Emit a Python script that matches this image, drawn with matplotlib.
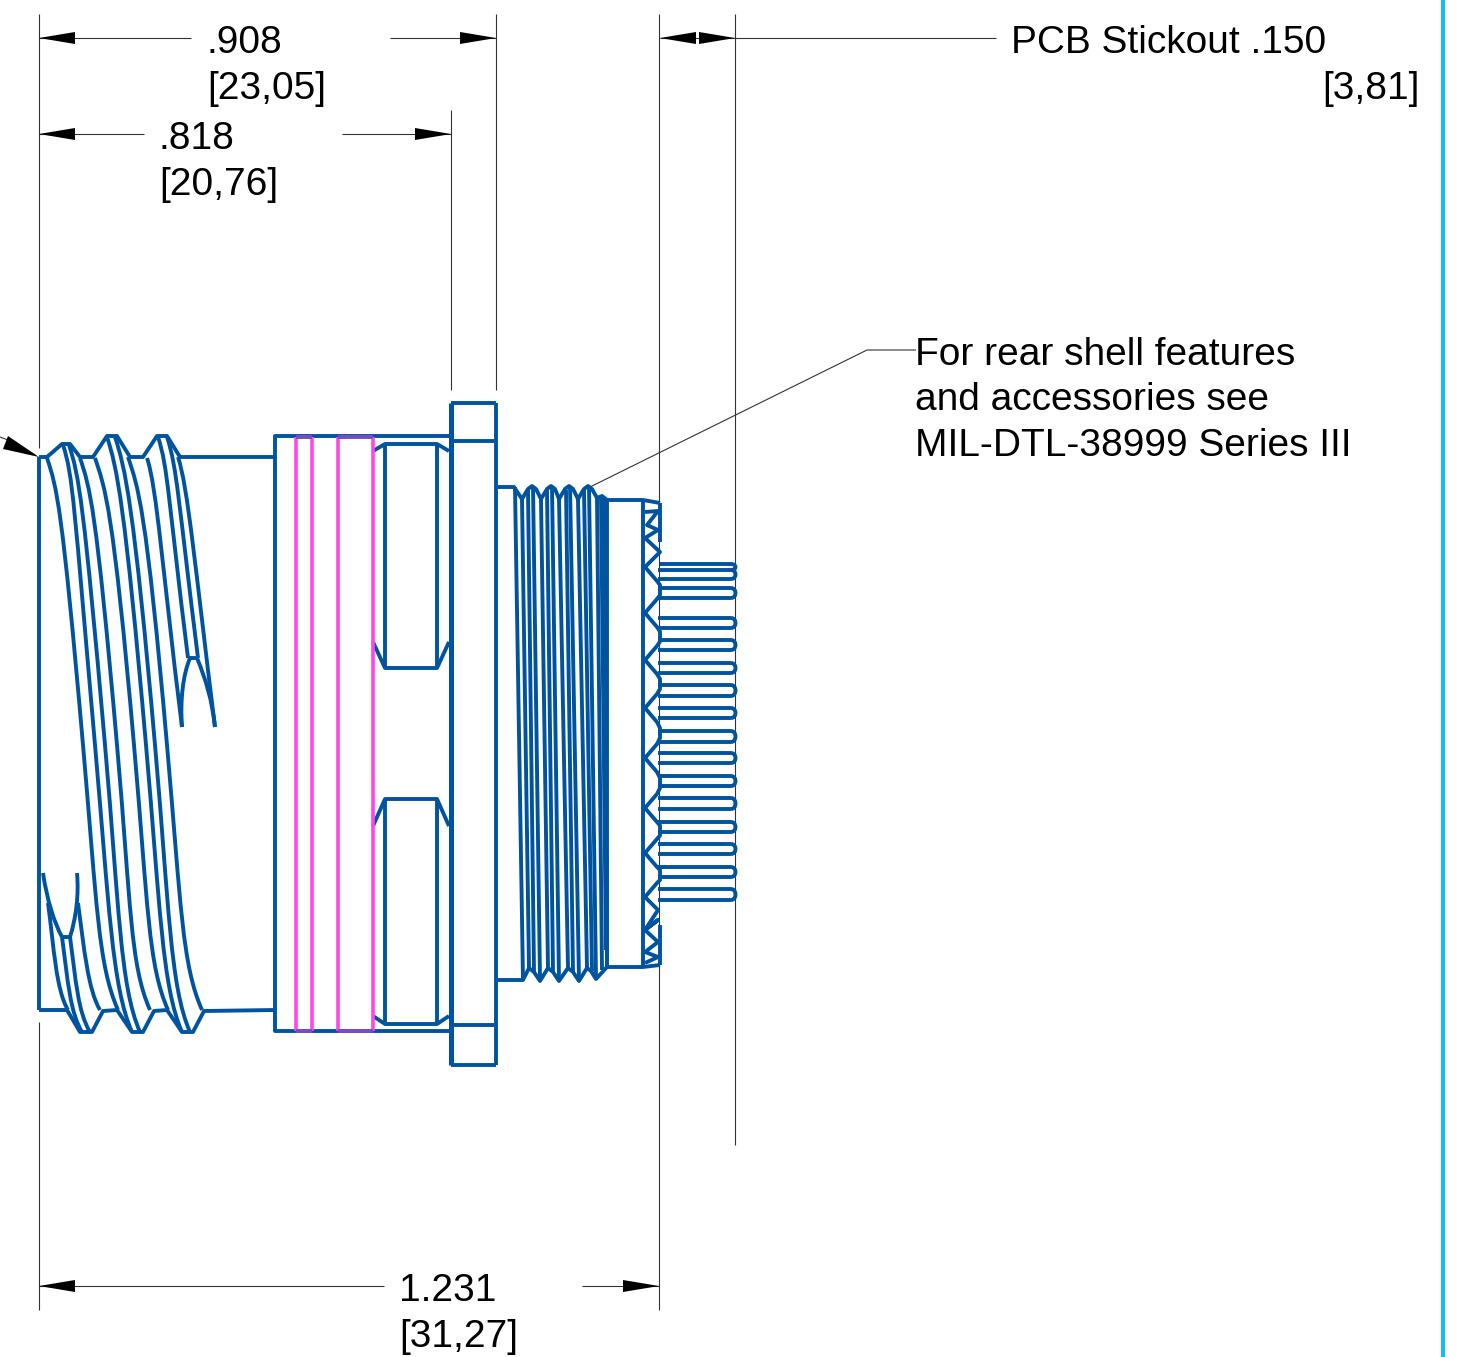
import matplotlib
matplotlib.use("Agg")
import matplotlib.pyplot as plt
from matplotlib.path import Path
from matplotlib.patches import PathPatch, Polygon

plt.rcParams['font.family'] = ['Liberation Sans', 'DejaVu Sans']

BLUE = '#00549f'
MAGENTA = '#ff45e6'
PURPLE = '#7a4cc4'
CYAN = '#17bdee'
GREY = '#333333'
LW = 2.8

# everything below is read off the picture, in image pixels
# front barrel outline
top_outline_x = [39, 47, 62, 70, 80, 93, 107, 117, 130, 143, 157, 167, 180, 275, 275, 450]
top_outline_y = [457, 457, 444, 444, 457, 457, 436, 436, 457, 457, 436, 436, 457, 457, 436, 436]
bot_outline_x = [39, 67, 80, 92, 103, 117, 132, 143, 154, 167, 182, 193, 204, 275, 275, 450]
bot_outline_y = [1010, 1010, 1032, 1032, 1011, 1010, 1032, 1032, 1011, 1010, 1032, 1032, 1011, 1010, 1031, 1031]

# long thread lines: start at the top, mid point, end at the bottom
thread_top_x = [47, 63, 69, 80, 95, 107, 115, 128]
thread_top_y = [458, 445, 445, 458, 458, 437, 437, 457]
thread_mid_x = [83, 95, 105, 117, 134, 146, 155, 167]
thread_end_x = [118, 132, 140, 150, 168, 182, 190, 202]
thread_end_y = [1010, 1032, 1032, 1010, 1010, 1032, 1032, 1010]

# thread run-outs, top right and bottom left (x0, y0, x1, y1)
runout_top = [(147, 458, 182, 727), (158, 437, 188, 658), (167, 437, 198, 658), (178, 457, 215, 727)]
runout_bot = [(48, 903, 68, 1010), (62, 937, 82, 1032), (70, 937, 90, 1032), (78, 903, 100, 1010)]

# rear thread
rear_profile_top_x = [497, 514, 522, 528, 532, 536, 541, 547, 551, 555, 559, 565, 569, 573, 578, 584, 588, 592, 597, 602, 607, 643, 660]
rear_profile_top_y = [487, 487, 499, 489, 486, 489, 499, 489, 486, 489, 499, 489, 486, 489, 499, 489, 486, 489, 498, 496, 500, 500, 503]
rear_profile_bot_x = [497, 523, 529, 534, 540, 548, 553, 559, 568, 573, 579, 587, 591, 596, 607, 643, 660]
rear_profile_bot_y = [980, 980, 968, 972, 981, 968, 972, 981, 968, 972, 981, 968, 971, 979, 967, 967, 965]
rear_line_top_x = [515, 522, 528, 533, 541, 547, 552, 559, 566, 570, 578, 584, 589, 597, 601, 604]
rear_line_top_y = [487, 499, 490, 486, 499, 490, 486, 499, 490, 486, 499, 490, 486, 498, 497, 497]
rear_line_bot_x = [523, 529, 534, 540, 548, 553, 559, 568, 573, 579, 587, 592, 596, 602, 606, 607]
rear_line_bot_y = [980, 968, 972, 980, 968, 972, 980, 968, 972, 980, 968, 971, 978, 970, 950, 967]

# pins, y of the upper and lower edge
pin_upper = [570, 588, 618, 640, 663, 685, 708, 731, 753, 776, 798, 822, 844, 867, 889]
pin_lower = [579, 598, 628, 650, 673, 696, 718, 742, 763, 786, 809, 832, 854, 877, 900]
pin_extra_y = 564

# insert edge: notches on the left, scallops out to the right
notch_y = [567, 613, 660, 708, 758, 808, 853, 897]
zig_top_x = [645, 658, 647, 658, 645, 660, 645]
zig_top_y = [512, 511, 525, 530, 538, 552, 567]
zig_bot_x = [645, 658, 645, 658, 645, 658, 645, 658, 645]
zig_bot_y = [897, 910, 930, 920, 930, 942, 952, 957, 963]

# magenta seal lines
seal_x = [296, 312, 338, 373]

fig = plt.figure(figsize=(14.63, 13.57), dpi=100)
ax = fig.add_axes([0, 0, 1, 1])
ax.set_xlim(0, 1463)
ax.set_ylim(1357, 0)
ax.axis('off')


def blue(x, y, lw=LW):
    ax.plot(x, y, color=BLUE, lw=lw, solid_joinstyle='round', solid_capstyle='butt', zorder=2)


def curve(verts, lw=LW, color=BLUE):
    codes = [Path.MOVETO] + [Path.CURVE4] * (len(verts) - 1)
    ax.add_patch(PathPatch(Path(verts, codes), fill=False, edgecolor=color, lw=lw,
                           capstyle='butt', joinstyle='round', zorder=2))


def thin(x, y):
    ax.plot(x, y, color=GREY, lw=0.8, solid_capstyle='butt', zorder=1)


def arrow(tip, direction, y):
    # filled dimension arrow, 36 px long
    ax.add_patch(Polygon([(tip, y), (tip + direction * 36, y - 6), (tip + direction * 36, y + 6)],
                         closed=True, color='black', lw=0, zorder=3))


# front barrel
blue(top_outline_x, top_outline_y)
blue(bot_outline_x, bot_outline_y)
blue([39, 39], [457, 1010])

for x0, y0, xm, x1, y1 in zip(thread_top_x, thread_top_y, thread_mid_x, thread_end_x, thread_end_y):
    ym = 745
    curve([(x0, y0), (x0 + 10, y0 + 30), (xm - 21, ym - 240), (xm, ym),
           (xm + 14, ym + 160), (x1 - 20, y1 - 45), (x1, y1)])

for x0, y0, x1, y1 in runout_top:
    curve([(x0, y0), (x0 + 10, y0 + 30), (x1 - 20, y1 - 160), (x1, y1)])
for x0, y0, x1, y1 in runout_bot:
    curve([(x0, y0), (x0 + 6, y0 + 45), (x1 - 12, y1 - 20), (x1, y1)])

# thread ends, the two little horns
blue([189, 198], [658, 658])
curve([(182, 727), (180, 700), (183, 675), (190, 658)])
curve([(197, 658), (206, 680), (212, 700), (215, 727)])
blue([62, 71], [937, 937])
curve([(43, 873), (47, 900), (54, 922), (62, 937)])
curve([(77, 873), (79, 895), (76, 918), (70, 937)])

# shell middle, notches
for y_a, y_b, y_c, y_d in [(451, 444, 668, 642), (826, 799, 1024, 1016)]:
    blue([373, 385, 437, 449], [y_a, y_b, y_b, y_a])
    blue([373, 385, 437, 449], [y_d, y_c, y_c, y_d])
    blue([385, 385], [y_b, y_c])
    blue([437, 437], [y_b, y_c])
blue([275, 275], [457, 1010])

# seal lines drawn over the shell
for sx in seal_x:
    ax.plot([sx, sx], [437, 1031], color=MAGENTA, lw=2.6, solid_capstyle='butt', zorder=2.5)
for sx0, sx1 in [(seal_x[0], seal_x[1]), (seal_x[2], seal_x[3])]:
    ax.plot([sx0, sx1], [436.5, 436.5], color=PURPLE, lw=LW, solid_capstyle='butt', zorder=2.6)
    ax.plot([sx0, sx1], [1031, 1031], color=PURPLE, lw=LW, solid_capstyle='butt', zorder=2.6)

# flange
blue([450.5, 450.5], [403, 1065], lw=3.6)
blue([496, 496], [403, 1065])
blue([451, 496], [403, 403])
blue([451, 496], [1065, 1065])
blue([451, 496], [441, 441])
blue([451, 496], [1025, 1025])

# rear thread
blue(rear_profile_top_x, rear_profile_top_y)
blue(rear_profile_bot_x, rear_profile_bot_y)
for x0, y0, x1, y1 in zip(rear_line_top_x, rear_line_top_y, rear_line_bot_x, rear_line_bot_y):
    blue([x0, x1], [y0, y1], lw=2.8)
blue([607, 607], [500, 967])
blue([643, 643], [500, 967])

# insert zig zag and scallops
blue(zig_top_x, zig_top_y)
blue(zig_bot_x, zig_bot_y)
blue([660, 660], [503, 542])
blue([660, 660], [925, 965])
for n0, n1 in zip(notch_y[:-1], notch_y[1:]):
    ym = (n0 + n1) / 2
    blue([645, 657, 660, 660, 657, 645], [n0, n0 + 14, ym - 5, ym + 5, n1 - 14, n1])

# pins
for y0, y1 in zip(pin_upper, pin_lower):
    blue([658, 731], [y0, y0])
    blue([658, 731], [y1, y1])
    curve([(731, y0), (737, y0), (737, y1), (731, y1)])
blue([660, 731], [pin_extra_y, pin_extra_y])
curve([(731, pin_extra_y), (737, pin_extra_y), (737, 570), (731, 570)])

# extension lines
thin([39, 39], [14, 448])
thin([39, 39], [1022, 1310])
thin([496, 496], [14, 390])
thin([451, 451], [110, 390])
thin([659, 659], [14, 1310])
thin([735, 735], [14, 1145])

# dimension lines
thin([39, 191], [38, 38])
thin([390, 496], [38, 38])
arrow(39, 1, 38)
arrow(496, -1, 38)
thin([39, 144], [134, 134])
thin([342, 451], [134, 134])
arrow(39, 1, 134)
arrow(451, -1, 134)
thin([39, 384], [1286, 1286])
thin([582, 659], [1286, 1286])
arrow(39, 1, 1286)
arrow(659, -1, 1286)
thin([660, 996], [38, 38])
arrow(660, 1, 38)
arrow(735, -1, 38)

# leader to the rear thread and the small arrow top left
thin([916, 867, 590], [350, 350, 487])
thin([0, 8], [437, 440])
ax.add_patch(Polygon([(39, 457), (8, 436), (3, 449)], closed=True, color='black', lw=0, zorder=3))

# right hand border
ax.plot([1443, 1443], [0, 1357], color=CYAN, lw=2.9, solid_capstyle='butt')

FS = 28
ax.text(207, 53, '.908', fontsize=FS, va='baseline')
ax.text(207, 99, '[23,05]', fontsize=FS, va='baseline')
ax.text(159, 149, '.818', fontsize=FS, va='baseline')
ax.text(159, 195, '[20,76]', fontsize=FS, va='baseline')
ax.text(399, 1301, '1.231', fontsize=FS, va='baseline')
ax.text(399, 1347, '[31,27]', fontsize=FS, va='baseline')
ax.text(1011, 53, 'PCB Stickout .150', fontsize=FS, va='baseline')
ax.text(1322, 99, '[3,81]', fontsize=FS, va='baseline')
ax.text(915, 365, 'For rear shell features', fontsize=FS, va='baseline')
ax.text(915, 410, 'and accessories see', fontsize=FS, va='baseline')
ax.text(915, 456, 'MIL-DTL-38999 Series III', fontsize=FS, va='baseline')

fig.savefig('out.png', dpi=100)
